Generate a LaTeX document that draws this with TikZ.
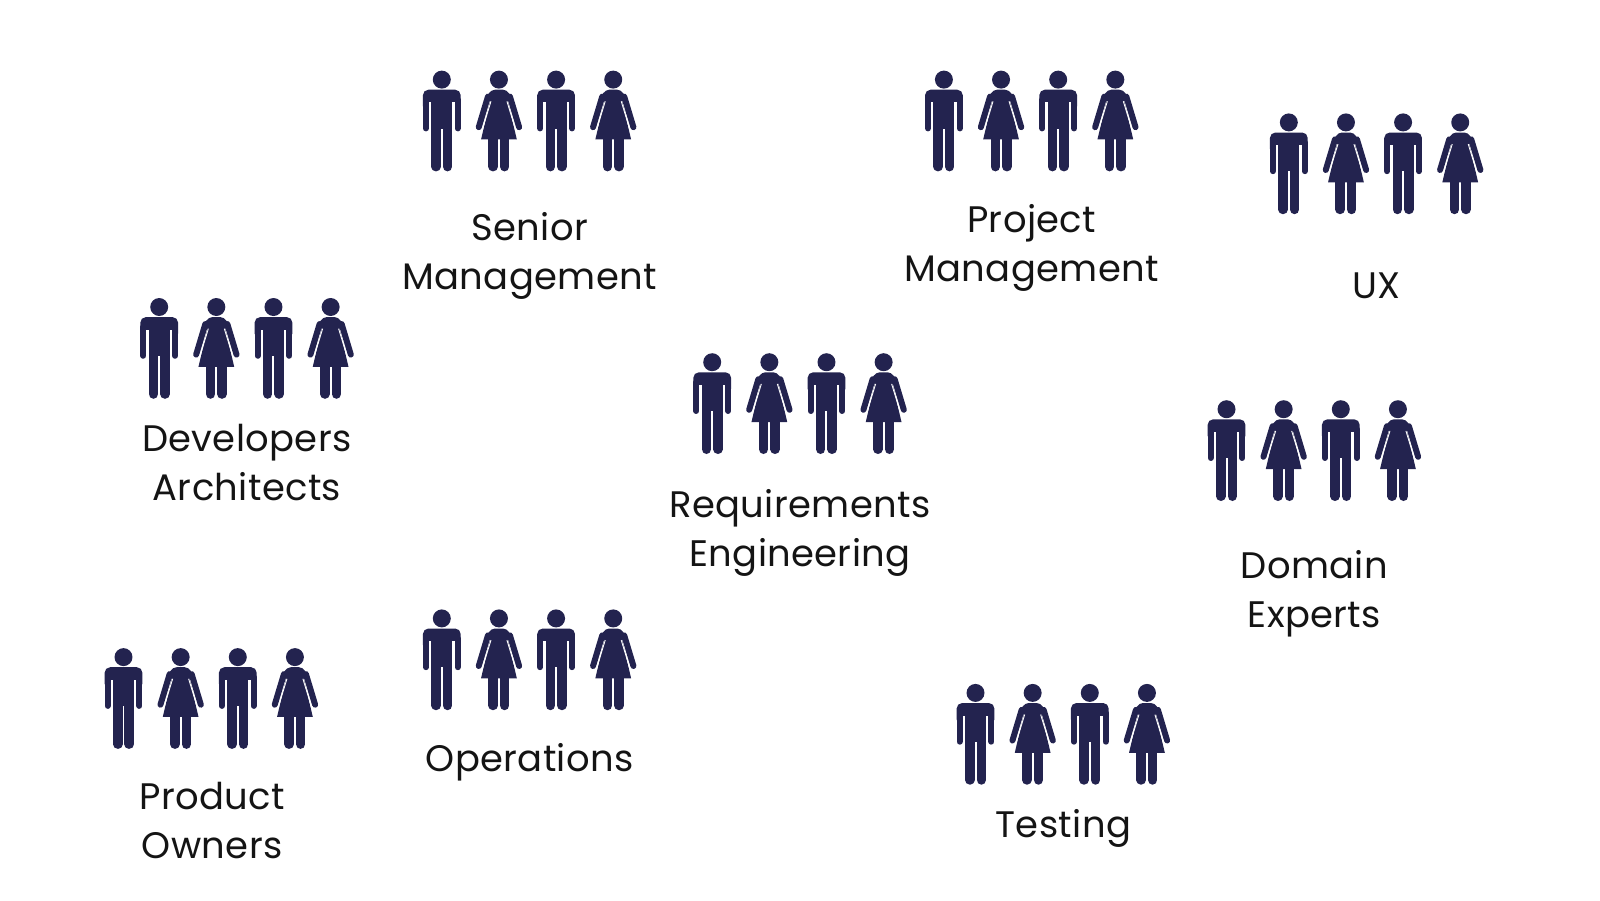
\documentclass[tikz,border=0pt]{standalone}
\usepackage{fontspec}
\setmainfont{Poppins}[LetterSpace=1.0]
\usetikzlibrary{calc}
\definecolor{figure}{HTML}{23234F}
\tikzset{
  grouplabel/.style={font=\fontsize{10.5}{13.9}\selectfont, align=center, inner sep=0pt, text=black!92},
  pics/man/.style={code={
    \begin{scope}[x=.01cm,y=-.01cm]
      % head, shoulders, arms, legs
      \fill[figure] (0,0) circle (9);
      \fill[figure, rounded corners=.055cm] (-18.9,32) rectangle (18.9,10.1);
      \fill[white] (-12.9,22.7) rectangle (-10.5,34);
      \fill[white] (12.9,22.7) rectangle (10.5,34);
      \fill[figure] (-10.5,20) rectangle (10.5,49);
      \draw[figure, line width=.06cm, line cap=round] (-15.9,20) -- (-15.9,48.8);
      \draw[figure, line width=.06cm, line cap=round] (15.9,20) -- (15.9,48.8);
      \draw[figure, line width=.095cm, line cap=round] (-5.75,40) -- (-5.75,87.1);
      \draw[figure, line width=.095cm, line cap=round] (5.75,40) -- (5.75,87.1);
    \end{scope}
  }},
  pics/woman/.style={code={
    \begin{scope}[x=.01cm,y=-.01cm]
      % head, dress, arms with a thin gap, legs
      \fill[figure] (0,0) circle (9);
      \fill[figure, rounded corners=.04cm] (-13,19) -- (-8,10.1) -- (8,10.1) -- (13,19) -- (8,23) -- (-8,23) -- cycle;
      \fill[figure] (-8.5,20) -- (8.5,20) -- (17.9,59.9) -- (-17.9,59.9) -- cycle;
      \draw[figure, line width=.06cm, line cap=round] (-11,17) -- (-20.2,47.6);
      \draw[figure, line width=.06cm, line cap=round] (11,17) -- (20.2,47.6);
      \draw[white, line width=.009cm] (-8,21.7) -- (-16.6,50);
      \draw[white, line width=.009cm] (8,21.7) -- (16.6,50);
      \draw[figure, line width=.095cm, line cap=round] (-5.75,55) -- (-5.75,87.1);
      \draw[figure, line width=.095cm, line cap=round] (5.75,55) -- (5.75,87.1);
    \end{scope}
  }},
  pics/people/.style={code={
    \pic at (0,0) {man};
    \pic at (0.5714,0) {woman};
    \pic at (1.1428,0) {man};
    \pic at (1.7142,0) {woman};
  }}
}

\begin{document}
\begin{tikzpicture}[y=-1cm]
  \useasboundingbox (0,0) rectangle (16,9);

  % groups, each placed by the head of its first figure
  \pic at (4.418,0.796) {people};
  \pic at (9.439,0.796) {people};
  \pic at (12.888,1.224) {people};
  \pic at (1.592,3.070) {people};
  \pic at (7.122,3.622) {people};
  \pic at (12.265,4.092) {people};
  \pic at (4.418,6.184) {people};
  \pic at (1.235,6.571) {people};
  \pic at (9.755,6.929) {people};

  % labels
  \node[grouplabel] (senior) at (5.296,2.56) {Senior\\Management};
  \node[grouplabel] (project) at (10.316,2.48) {Project\\Management};
  \node[grouplabel] (ux) at (13.765,2.857) {UX};
  \node[grouplabel] (developers) at (2.469,4.625) {Developers\\Architects};
  \node[grouplabel] (requirements) at (8.0,5.326) {Requirements\\Engineering};
  \node[grouplabel] (domain) at (13.143,5.938) {Domain\\Experts};
  \node[grouplabel] (operations) at (5.296,7.621) {Operations};
  \node[grouplabel] (owners) at (2.122,8.204) {Product\\Owners};
  \node[grouplabel] (testing) at (10.633,8.285) {Testing};
\end{tikzpicture}
\end{document}
